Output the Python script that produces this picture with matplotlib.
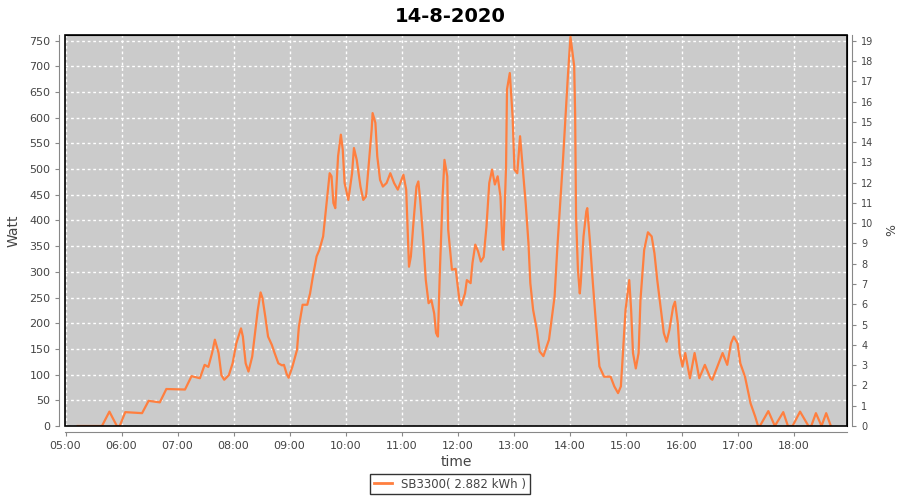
import matplotlib
matplotlib.use("Agg")
import matplotlib.pyplot as plt
import numpy as np

# readings of the day (HH:MM, Watt)
times = ["05:13", "05:39", "05:47", "05:55", "05:58", "06:04", "06:22", "06:29", "06:41", "06:48",
         "07:08", "07:15", "07:24", "07:29", "07:33", "07:37", "07:40", "07:44", "07:47", "07:50",
         "07:55", "07:59", "08:03", "08:08", "08:10", "08:13", "08:16", "08:20", "08:23", "08:26",
         "08:29", "08:31", "08:34", "08:37", "08:41", "08:44", "08:48", "08:52", "08:54", "08:57",
         "08:59", "09:03", "09:08", "09:10", "09:14", "09:19", "09:22", "09:25", "09:29", "09:32",
         "09:36", "09:39", "09:43", "09:45", "09:47", "09:49", "09:52", "09:55", "09:57", "09:59",
         "10:03", "10:07", "10:09", "10:12", "10:16", "10:19", "10:22", "10:25", "10:28", "10:29",
         "10:32", "10:34", "10:37", "10:40", "10:44", "10:48", "10:52", "10:56", "11:02", "11:05",
         "11:06", "11:08", "11:10", "11:13", "11:16", "11:18", "11:20", "11:23", "11:26", "11:29",
         "11:32", "11:35", "11:37", "11:39", "11:41", "11:44", "11:46", "11:49", "11:50", "11:54",
         "11:58", "12:02", "12:04", "12:08", "12:10", "12:14", "12:16", "12:19", "12:22", "12:25",
         "12:28", "12:31", "12:34", "12:37", "12:40", "12:43", "12:46", "12:48", "12:49", "12:51",
         "12:52", "12:53", "12:56", "12:59", "13:01", "13:04", "13:07", "13:13", "13:16", "13:18",
         "13:21", "13:25", "13:28", "13:32", "13:38", "13:44", "13:47", "13:53", "13:58", "14:01",
         "14:05", "14:06", "14:07", "14:09", "14:11", "14:12", "14:15", "14:18", "14:19", "14:22",
         "14:25", "14:28", "14:32", "14:37", "14:44", "14:48", "14:52", "14:55", "14:57", "15:00",
         "15:04", "15:06", "15:08", "15:11", "15:14", "15:16", "15:20", "15:24", "15:28", "15:31",
         "15:34", "15:38", "15:41", "15:44", "15:47", "15:51", "15:53", "15:56", "15:58", "16:01",
         "16:04", "16:09", "16:14", "16:19", "16:25", "16:31", "16:33", "16:37", "16:44", "16:49",
         "16:53", "16:56", "17:00", "17:03", "17:08", "17:14", "17:19", "17:22", "17:24", "17:33",
         "17:40", "17:49", "17:54", "17:59", "18:07", "18:16", "18:19", "18:24", "18:30", "18:35",
         "18:40"]
watt = [0, 0, 28, 0, 0, 27, 25, 49, 46, 72,
        71, 97, 93, 119, 115, 142, 168, 142, 99, 90,
        99, 122, 161, 190, 174, 122, 106, 135, 181, 226,
        260, 249, 213, 174, 158, 142, 122, 118, 119, 101,
        94, 115, 148, 193, 236, 236, 258, 291, 330, 343,
        369, 421, 492, 486, 434, 424, 525, 567, 538, 473,
        440, 492, 541, 518, 466, 440, 447, 512, 577, 609,
        590, 525, 479, 466, 473, 492, 473, 460, 489, 460,
        408, 310, 330, 401, 466, 476, 440, 369, 284, 239,
        245, 219, 181, 174, 297, 447, 518, 486, 382, 304,
        306, 245, 235, 258, 284, 278, 317, 353, 340, 320,
        329, 388, 473, 499, 470, 486, 447, 356, 343, 447,
        505, 655, 687, 603, 499, 492, 564, 434, 356, 278,
        226, 187, 145, 136, 168, 252, 349, 518, 674, 758,
        700, 609, 408, 304, 258, 278, 369, 418, 424, 356,
        278, 207, 116, 96, 96, 77, 64, 77, 135, 226,
        284, 226, 142, 112, 142, 245, 343, 377, 369, 336,
        284, 226, 181, 164, 187, 232, 242, 200, 142, 116,
        142, 93, 142, 93, 119, 93, 90, 109, 142, 119,
        161, 174, 161, 122, 96, 44, 18, 0, 0, 29,
        0, 27, 0, 0, 28, 0, 0, 25, 0, 25,
        0]

title = "14-8-2020"
series_label = "SB3300( 2.882 kWh )"
hour_ticks = list(range(5, 19))
watt_ticks = list(range(0, 751, 50))
pct_ticks = list(range(0, 20))

hours = np.array([int(t[:2]) + int(t[3:]) / 60 for t in times])

fig = plt.figure(figsize=(9, 5), dpi=100)
fig.patch.set_facecolor("white")
ax = fig.add_axes([0.0722, 0.148, 0.8686, 0.782])
ax.set_facecolor("#cbcbcb")

ax.plot(hours, watt, color="#ff7f3f", lw=1.6, zorder=3)

ax.set_xlim(4.99, 18.95)
ax.set_ylim(0, 761)
ax.set_xticks(hour_ticks)
ax.set_xticklabels(["%02d:00" % h for h in hour_ticks])
ax.set_yticks(watt_ticks)
ax.grid(True, color="white", linestyle=(0, (2, 2)), lw=1.0)
ax.set_axisbelow(True)

for s in ["top", "right"]:
    ax.spines[s].set_color("black")
for s in ["left", "bottom"]:
    ax.spines[s].set_position(("outward", 4))
    ax.spines[s].set_color("#888888")
ax.tick_params(axis="both", colors="#888888", labelcolor="#444444", labelsize=8, length=3)

ax.set_xlabel("time", fontsize=10, color="#444444", labelpad=3)
ax.set_ylabel("Watt", fontsize=10, color="#444444", labelpad=6)

# frame around the plot area itself
ax.add_patch(plt.Rectangle((0, 0), 1, 1, transform=ax.transAxes, fill=False,
                           ec="black", lw=1.2, zorder=5, clip_on=False))

ax2 = ax.twinx()
ax2.set_ylim(0, 19.28)
ax2.set_yticks(pct_ticks)
ax2.spines["right"].set_position(("outward", 4))
ax2.spines["right"].set_color("#888888")
for s in ["top", "left", "bottom"]:
    ax2.spines[s].set_visible(False)
ax2.tick_params(axis="y", colors="#888888", labelcolor="#444444", labelsize=7, length=3)
ax2.set_ylabel("%", fontsize=9, color="#444444", labelpad=8)

fig.suptitle(title, fontsize=14, fontweight="bold", y=0.985)

leg = fig.legend([plt.Line2D([], [], color="#ff7f3f", lw=2)], [series_label],
                 loc="lower center", bbox_to_anchor=(0.5, 0.0), fontsize=8.5,
                 frameon=True, fancybox=False, handlelength=1.5, borderpad=0.3)
leg.get_frame().set_edgecolor("black")
leg.get_frame().set_linewidth(1.0)
for t in leg.get_texts():
    t.set_color("#444444")

fig.savefig("out.png", dpi=100)
